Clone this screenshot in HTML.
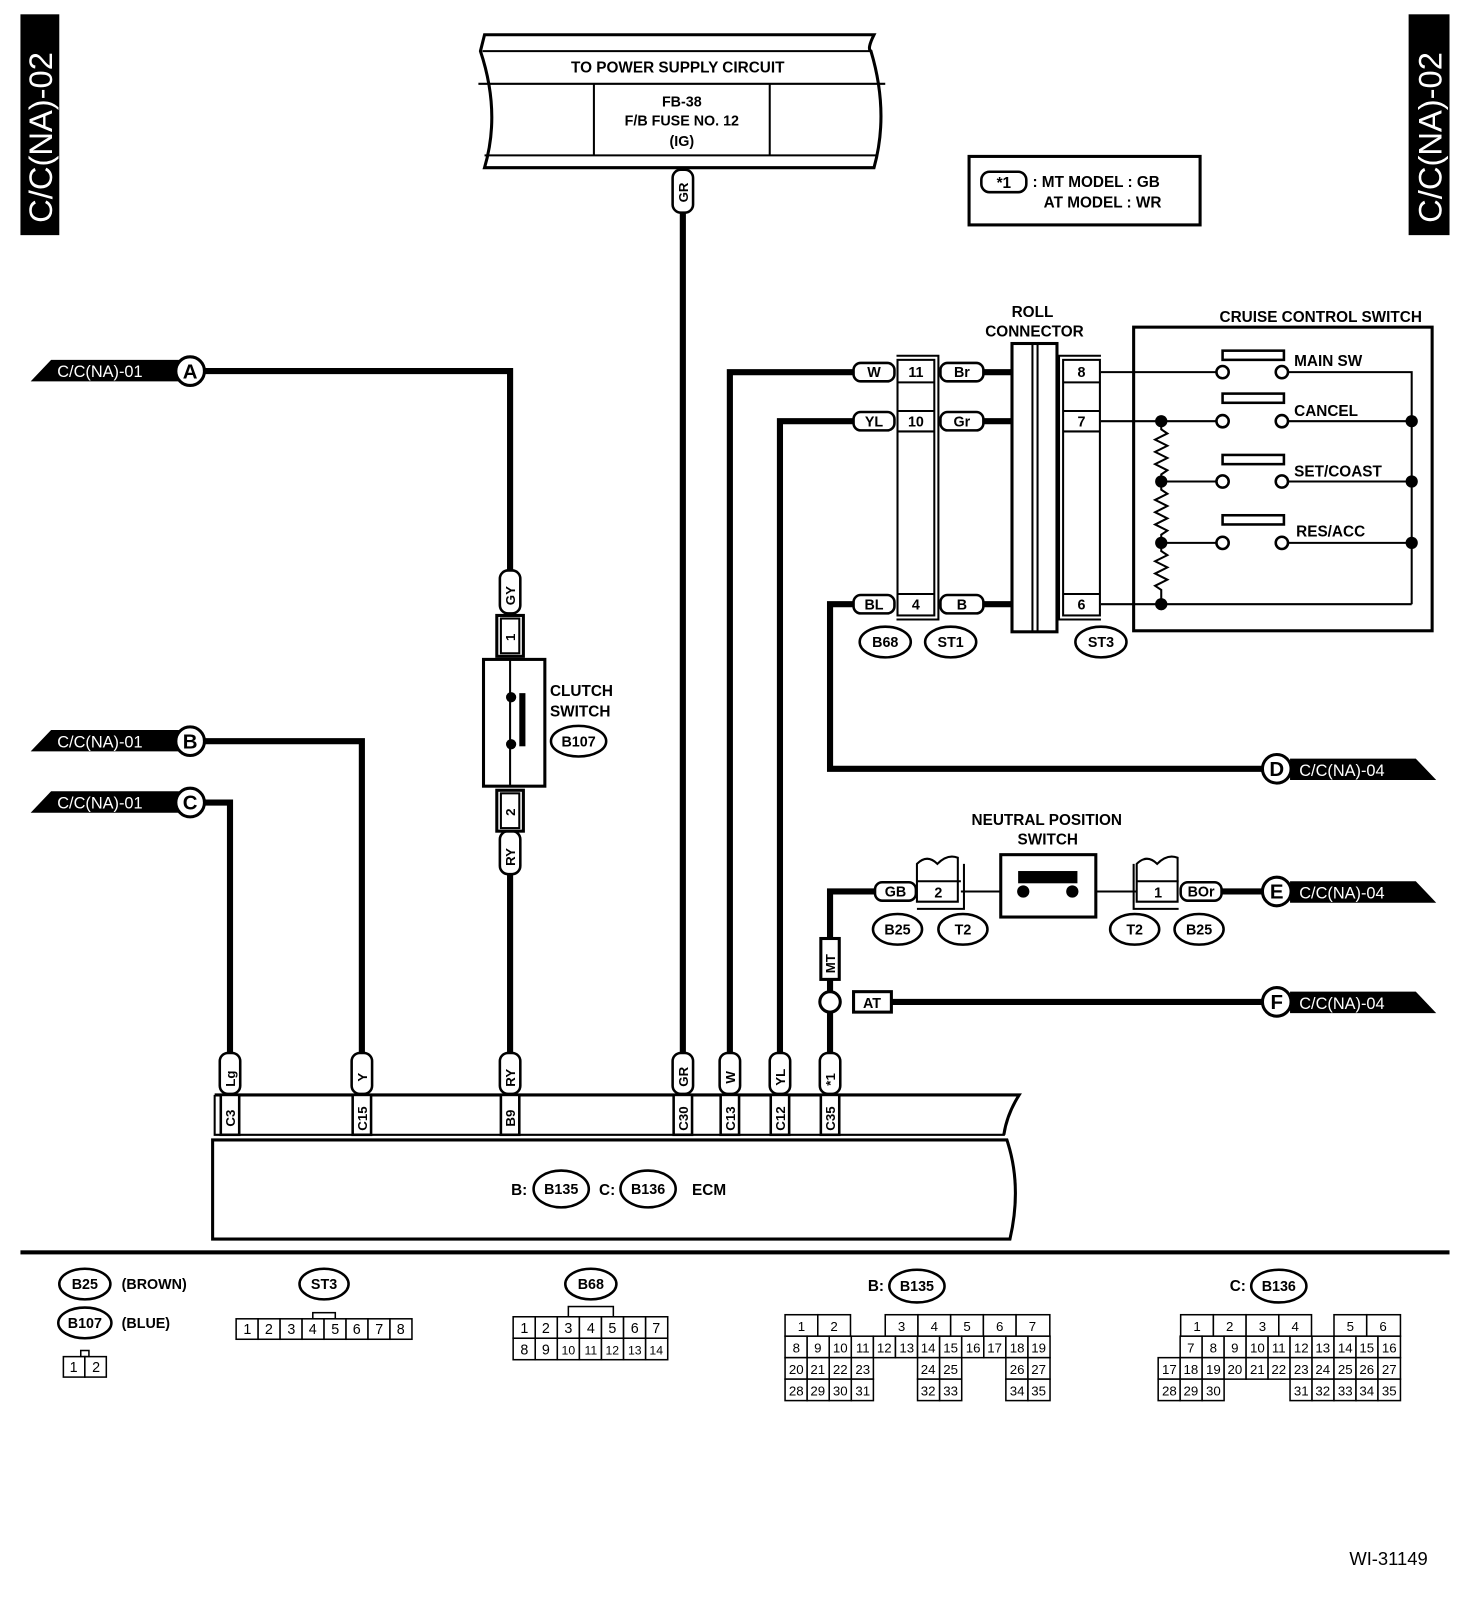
<!DOCTYPE html>
<html><head><meta charset="utf-8"><style>
html,body{margin:0;padding:0;background:#fff}
svg{display:block}
text{font-family:"Liberation Sans",sans-serif;font-weight:bold;fill:#000}
.w{fill:#fff}
.t{stroke:#000;stroke-width:6;fill:none}
.n{stroke:#000;stroke-width:2;fill:none}
.b{stroke:#000;stroke-width:3;fill:#fff}
.p{stroke:#000;stroke-width:2.5;fill:#fff}
</style></head><body>
<svg width="1472" height="1602" viewBox="0 0 1440 1567" preserveAspectRatio="none" xmlns="http://www.w3.org/2000/svg">
<!-- side tags -->
<rect x="20" y="14" width="38" height="216" fill="#000"/>
<text class="w" font-size="32" transform="translate(51,218) rotate(-90)" style="font-weight:normal">C/C(NA)-02</text>
<rect x="1378" y="14" width="40" height="216" fill="#000"/>
<text class="w" font-size="32" transform="translate(1410,218) rotate(-90)" style="font-weight:normal">C/C(NA)-02</text>

<!-- power box -->
<path class="b" d="M474,34 L855,34 Q848,48 852,50 Q870,110 855,164 L474,164 Q490,110 470,50 Z"/>
<line class="n" x1="472" y1="50" x2="852" y2="50" stroke-width="3"/>
<line class="n" x1="468" y1="82" x2="866" y2="82" stroke-width="3"/>
<line class="n" x1="474" y1="152" x2="857" y2="152" stroke-width="3"/>
<line class="n" x1="581" y1="82" x2="581" y2="152" stroke-width="3"/>
<line class="n" x1="753" y1="82" x2="753" y2="152" stroke-width="3"/>
<text x="663" y="71" font-size="15" text-anchor="middle">TO POWER SUPPLY CIRCUIT</text>
<text x="667" y="104" font-size="14" text-anchor="middle">FB-38</text>
<text x="667" y="123" font-size="14" text-anchor="middle">F/B FUSE NO. 12</text>
<text x="667" y="143" font-size="14" text-anchor="middle">(IG)</text>

<!-- note box -->
<rect x="948" y="153" width="226" height="67" class="b"/>
<rect x="960" y="168" width="44" height="20" rx="8" class="p"/>
<text x="982" y="184" font-size="15" text-anchor="middle">*1</text>
<text x="1010" y="183" font-size="15">: MT MODEL  : GB</text>
<text x="1021" y="203" font-size="15">AT MODEL  : WR</text>

<!-- thick wires -->
<path class="t" d="M668,205 V1032"/>
<path class="t" d="M200,363 H499 V562"/>
<path class="t" d="M499,852 V1032"/>
<path class="t" d="M200,725 H354 V1032"/>
<path class="t" d="M200,785 H225 V1032"/>
<path class="t" d="M714,1032 V364 H837"/>
<path class="t" d="M763,1032 V412 H837"/>
<path class="t" d="M837,591 H812 V752 H1236"/>
<path class="t" d="M812,1032 V872 H858"/>
<path class="t" d="M870,980 H1236"/>
<path class="t" d="M1194,872 H1236"/>
<path class="t" d="M960,364 H990 M960,412 H990 M960,591 H990"/>

<!-- left tags -->
<polygon points="50,352 175,352 175,373 30,373" fill="#000"/>
<text class="w" x="56" y="369" font-size="16" style="font-weight:normal">C/C(NA)-01</text>
<circle cx="186" cy="363" r="14" class="b"/><text x="186" y="370" font-size="20" text-anchor="middle">A</text>
<polygon points="50,714 175,714 175,735 30,735" fill="#000"/>
<text class="w" x="56" y="731" font-size="16" style="font-weight:normal">C/C(NA)-01</text>
<circle cx="186" cy="725" r="14" class="b"/><text x="186" y="732" font-size="20" text-anchor="middle">B</text>
<polygon points="50,774 175,774 175,795 30,795" fill="#000"/>
<text class="w" x="56" y="791" font-size="16" style="font-weight:normal">C/C(NA)-01</text>
<circle cx="186" cy="785" r="14" class="b"/><text x="186" y="792" font-size="20" text-anchor="middle">C</text>

<!-- right tags -->
<polygon points="1262,742 1385,742 1405,763 1262,763" fill="#000"/>
<text class="w" x="1271" y="759" font-size="16" style="font-weight:normal">C/C(NA)-04</text>
<circle cx="1249" cy="752" r="14" class="b"/><text x="1249" y="759" font-size="20" text-anchor="middle">D</text>
<polygon points="1262,862 1385,862 1405,883 1262,883" fill="#000"/>
<text class="w" x="1271" y="879" font-size="16" style="font-weight:normal">C/C(NA)-04</text>
<circle cx="1249" cy="872" r="14" class="b"/><text x="1249" y="879" font-size="20" text-anchor="middle">E</text>
<polygon points="1262,970 1385,970 1405,991 1262,991" fill="#000"/>
<text class="w" x="1271" y="987" font-size="16" style="font-weight:normal">C/C(NA)-04</text>
<circle cx="1249" cy="980" r="14" class="b"/><text x="1249" y="987" font-size="20" text-anchor="middle">F</text>

<!-- vertical pills -->
<rect x="658" y="166" width="20" height="42" rx="8" class="p"/><text font-size="13" transform="translate(673,198) rotate(-90)">GR</text>
<rect x="489" y="558" width="20" height="42" rx="8" class="p"/><text font-size="13" transform="translate(504,592) rotate(-90)">GY</text>
<rect x="489" y="813" width="20" height="42" rx="8" class="p"/><text font-size="13" transform="translate(504,847) rotate(-90)">RY</text>

<!-- clutch switch -->
<rect x="486" y="602" width="26" height="40" class="b"/><rect x="490" y="605" width="18" height="34" class="n"/>
<text font-size="13" transform="translate(504,627) rotate(-90)">1</text>
<rect x="473" y="645" width="60" height="124" class="b"/>
<line class="n" x1="499" y1="645" x2="499" y2="769"/>
<rect x="508" y="678" width="6" height="52" fill="#000"/>
<circle cx="500" cy="682" r="5"/><circle cx="500" cy="728" r="5"/>
<rect x="486" y="773" width="26" height="40" class="b"/><rect x="490" y="776" width="18" height="34" class="n"/>
<text font-size="13" transform="translate(504,798) rotate(-90)">2</text>
<text x="538" y="681" font-size="15">CLUTCH</text>
<text x="538" y="701" font-size="15">SWITCH</text>
<ellipse cx="566" cy="725" rx="27" ry="15" class="p"/><text x="566" y="730" font-size="14" text-anchor="middle">B107</text>

<!-- horizontal pills roll area -->
<rect x="835" y="355" width="40" height="18" rx="7" class="p"/><text x="855" y="369" font-size="14" text-anchor="middle">W</text>
<rect x="835" y="403" width="40" height="18" rx="7" class="p"/><text x="855" y="417" font-size="14" text-anchor="middle">YL</text>
<rect x="835" y="582" width="40" height="18" rx="7" class="p"/><text x="855" y="596" font-size="14" text-anchor="middle">BL</text>
<rect x="920" y="355" width="42" height="18" rx="7" class="p"/><text x="941" y="369" font-size="14" text-anchor="middle">Br</text>
<rect x="920" y="403" width="42" height="18" rx="7" class="p"/><text x="941" y="417" font-size="14" text-anchor="middle">Gr</text>
<rect x="920" y="582" width="42" height="18" rx="7" class="p"/><text x="941" y="596" font-size="14" text-anchor="middle">B</text>
<!-- B68 connector -->
<path class="n" stroke-width="3" d="M877,348 H918 V606 H877"/>
<rect x="878" y="352" width="36" height="250" class="n" stroke-width="3"/>
<path class="n" stroke-width="3" d="M878,374 H914 M878,402 H914 M878,422 H914 M878,581 H914"/>
<text x="896" y="369" font-size="14" text-anchor="middle">11</text>
<text x="896" y="417" font-size="14" text-anchor="middle">10</text>
<text x="896" y="596" font-size="14" text-anchor="middle">4</text>
<!-- roll connector -->
<text x="1010" y="310" font-size="15" text-anchor="middle">ROLL</text>
<text x="1012" y="329" font-size="15" text-anchor="middle">CONNECTOR</text>
<rect x="990" y="336" width="44" height="282" class="b"/>
<path class="n" stroke-width="3" d="M1010,336 V618 M1015,336 V618"/>
<!-- ST3 connector -->
<path class="n" stroke-width="3" d="M1077,348 H1036 V606 H1077"/>
<rect x="1040" y="352" width="36" height="250" class="n" stroke-width="3"/>
<path class="n" stroke-width="3" d="M1040,374 H1076 M1040,402 H1076 M1040,422 H1076 M1040,581 H1076"/>
<text x="1058" y="369" font-size="14" text-anchor="middle">8</text>
<text x="1058" y="417" font-size="14" text-anchor="middle">7</text>
<text x="1058" y="596" font-size="14" text-anchor="middle">6</text>
<ellipse cx="866" cy="628" rx="25" ry="15" class="p"/><text x="866" y="633" font-size="14" text-anchor="middle">B68</text>
<ellipse cx="930" cy="628" rx="25" ry="15" class="p"/><text x="930" y="633" font-size="14" text-anchor="middle">ST1</text>
<ellipse cx="1077" cy="628" rx="25" ry="15" class="p"/><text x="1077" y="633" font-size="14" text-anchor="middle">ST3</text>

<!-- cruise control switch -->
<text x="1292" y="315" font-size="15" text-anchor="middle">CRUISE CONTROL SWITCH</text>
<rect x="1109" y="320" width="292" height="297" class="b"/>
<path class="n" d="M1077,364 H1190 M1260,364 H1381 V591 M1077,591 H1381 M1077,412 H1190 M1136,471 H1190 M1136,531 H1190 M1260,412 H1381 M1260,471 H1381 M1260,531 H1381"/>
<path class="n" d="M1136,412 V420 l6,4 l-12,6 l12,6 l-12,6 l12,6 l-12,6 l12,6 l-6,4 V479 l6,4 l-12,6 l12,6 l-12,6 l12,6 l-12,6 l12,6 l-6,4 V539 l6,4 l-12,6 l12,6 l-12,6 l12,6 l-12,6 l6,4 V591"/>
<g fill="#fff" stroke="#000" stroke-width="2.5">
<circle cx="1196" cy="364" r="6"/><circle cx="1254" cy="364" r="6"/>
<circle cx="1196" cy="412" r="6"/><circle cx="1254" cy="412" r="6"/>
<circle cx="1196" cy="471" r="6"/><circle cx="1254" cy="471" r="6"/>
<circle cx="1196" cy="531" r="6"/><circle cx="1254" cy="531" r="6"/>
<rect x="1196" y="343" width="60" height="9"/><rect x="1196" y="385" width="60" height="9"/>
<rect x="1196" y="445" width="60" height="9"/><rect x="1196" y="504" width="60" height="9"/>
</g>
<g fill="#000"><circle cx="1136" cy="412" r="6"/><circle cx="1136" cy="471" r="6"/><circle cx="1136" cy="531" r="6"/><circle cx="1136" cy="591" r="6"/>
<circle cx="1381" cy="412" r="6"/><circle cx="1381" cy="471" r="6"/><circle cx="1381" cy="531" r="6"/></g>
<text x="1266" y="358" font-size="15">MAIN SW</text>
<text x="1266" y="407" font-size="15">CANCEL</text>
<text x="1266" y="466" font-size="15">SET/COAST</text>
<text x="1268" y="525" font-size="15">RES/ACC</text>

<!-- neutral position switch -->
<text x="1024" y="807" font-size="15" text-anchor="middle">NEUTRAL POSITION</text>
<text x="1025" y="826" font-size="15" text-anchor="middle">SWITCH</text>
<path class="n" d="M940,872 H1112"/>
<rect x="979" y="836" width="93" height="61" class="b"/>
<rect x="996" y="852" width="58" height="12" fill="#000"/>
<circle cx="1001" cy="872" r="6"/><circle cx="1049" cy="872" r="6"/>
<path class="n" stroke-width="3" d="M897,882 V845 q10,-10 20,0 q10,-10 20,-6 V882 Z M897,889 H943 V845"/>
<line class="n" stroke-width="3" x1="897" y1="862" x2="940" y2="862"/>
<text x="918" y="878" font-size="14" text-anchor="middle">2</text>
<path class="n" stroke-width="3" d="M1112,882 V845 q10,-10 20,0 q10,-10 20,-6 V882 Z M1109,845 V889 H1153"/>
<line class="n" stroke-width="3" x1="1112" y1="862" x2="1153" y2="862"/>
<text x="1133" y="878" font-size="14" text-anchor="middle">1</text>
<rect x="856" y="863" width="40" height="18" rx="7" class="p"/><text x="876" y="877" font-size="14" text-anchor="middle">GB</text>
<rect x="1155" y="863" width="40" height="18" rx="7" class="p"/><text x="1175" y="877" font-size="14" text-anchor="middle">BOr</text>
<ellipse cx="878" cy="909" rx="24" ry="15" class="p"/><text x="878" y="914" font-size="14" text-anchor="middle">B25</text>
<ellipse cx="942" cy="909" rx="24" ry="15" class="p"/><text x="942" y="914" font-size="14" text-anchor="middle">T2</text>
<ellipse cx="1110" cy="909" rx="24" ry="15" class="p"/><text x="1110" y="914" font-size="14" text-anchor="middle">T2</text>
<ellipse cx="1173" cy="909" rx="24" ry="15" class="p"/><text x="1173" y="914" font-size="14" text-anchor="middle">B25</text>
<rect x="803" y="918" width="18" height="40" class="b"/><text font-size="13" transform="translate(817,952) rotate(-90)">MT</text>
<circle cx="812" cy="980" r="10" class="b"/>
<rect x="835" y="970" width="37" height="20" class="b"/><text x="853" y="986" font-size="14" text-anchor="middle">AT</text>

<!-- ECM -->
<path class="b" d="M210,1071 H997 Q985,1090 982,1110"/>
<path class="n" stroke-width="3" d="M210,1071 V1110 H983"/>
<path class="b" d="M208,1115 H985 Q1000,1160 988,1212 H208 Z"/>
<g fill="#fff" stroke="#000" stroke-width="2.5">
<rect x="216" y="1071" width="18" height="39"/><rect x="345" y="1071" width="18" height="39"/>
<rect x="490" y="1071" width="18" height="39"/><rect x="659" y="1071" width="18" height="39"/>
<rect x="705" y="1071" width="18" height="39"/><rect x="754" y="1071" width="18" height="39"/>
<rect x="803" y="1071" width="18" height="39"/>
<rect x="215" y="1030" width="20" height="40" rx="8"/><rect x="344" y="1030" width="20" height="40" rx="8"/>
<rect x="489" y="1030" width="20" height="40" rx="8"/><rect x="658" y="1030" width="20" height="40" rx="8"/>
<rect x="704" y="1030" width="20" height="40" rx="8"/><rect x="753" y="1030" width="20" height="40" rx="8"/>
<rect x="802" y="1030" width="20" height="40" rx="8"/>
</g>
<g font-size="13">
<text transform="translate(230,1063) rotate(-90)">Lg</text>
<text transform="translate(359,1058) rotate(-90)">Y</text>
<text transform="translate(504,1063) rotate(-90)">RY</text>
<text transform="translate(673,1063) rotate(-90)">GR</text>
<text transform="translate(719,1060) rotate(-90)">W</text>
<text transform="translate(768,1062) rotate(-90)">YL</text>
<text transform="translate(817,1062) rotate(-90)">*1</text>
<text transform="translate(230,1102) rotate(-90)">C3</text>
<text transform="translate(359,1106) rotate(-90)">C15</text>
<text transform="translate(504,1102) rotate(-90)">B9</text>
<text transform="translate(673,1106) rotate(-90)">C30</text>
<text transform="translate(719,1106) rotate(-90)">C13</text>
<text transform="translate(768,1106) rotate(-90)">C12</text>
<text transform="translate(817,1106) rotate(-90)">C35</text>
</g>
<text x="500" y="1169" font-size="15">B:</text>
<ellipse cx="549" cy="1163" rx="27" ry="18" class="p"/><text x="549" y="1168" font-size="14" text-anchor="middle">B135</text>
<text x="586" y="1169" font-size="15">C:</text>
<ellipse cx="634" cy="1163" rx="27" ry="18" class="p"/><text x="634" y="1168" font-size="14" text-anchor="middle">B136</text>
<text x="677" y="1169" font-size="15">ECM</text>

<!-- separator -->
<rect x="20" y="1223" width="1398" height="4" fill="#000"/>

<!-- legend -->
<ellipse cx="83" cy="1256" rx="25" ry="15" class="p"/><text x="83" y="1261" font-size="14" text-anchor="middle">B25</text>
<text x="119" y="1261" font-size="14">(BROWN)</text>
<ellipse cx="83" cy="1294" rx="26" ry="15" class="p"/><text x="83" y="1299" font-size="14" text-anchor="middle">B107</text>
<text x="119" y="1299" font-size="14">(BLUE)</text>
<g fill="#fff" stroke="#000" stroke-width="1.5" font-weight="normal">
<rect x="79" y="1321" width="8" height="6"/>
<rect x="62" y="1327" width="21" height="20"/><rect x="83" y="1327" width="21" height="20"/>
</g>
<g font-size="14" style="font-weight:normal"><text x="72" y="1342" text-anchor="middle" style="font-weight:normal">1</text><text x="94" y="1342" text-anchor="middle" style="font-weight:normal">2</text></g>

<ellipse cx="317" cy="1256" rx="24" ry="15" class="p"/><text x="317" y="1261" font-size="14" text-anchor="middle">ST3</text>
<rect x="306" y="1284" width="22" height="6" fill="#fff" stroke="#000" stroke-width="1.5"/>
<g fill="#fff" stroke="#000" stroke-width="1.5">
<rect x="231" y="1290" width="21.5" height="20"/><rect x="252.5" y="1290" width="21.5" height="20"/><rect x="274" y="1290" width="21.5" height="20"/><rect x="295.5" y="1290" width="21.5" height="20"/><rect x="317" y="1290" width="21.5" height="20"/><rect x="338.5" y="1290" width="21.5" height="20"/><rect x="360" y="1290" width="21.5" height="20"/><rect x="381.5" y="1290" width="21.5" height="20"/>
</g>
<g font-size="14" text-anchor="middle"><text x="242" y="1305" style="font-weight:normal">1</text><text x="263" y="1305" style="font-weight:normal">2</text><text x="285" y="1305" style="font-weight:normal">3</text><text x="306" y="1305" style="font-weight:normal">4</text><text x="328" y="1305" style="font-weight:normal">5</text><text x="349" y="1305" style="font-weight:normal">6</text><text x="371" y="1305" style="font-weight:normal">7</text><text x="392" y="1305" style="font-weight:normal">8</text></g>

<ellipse cx="578" cy="1256" rx="25" ry="15" class="p"/><text x="578" y="1261" font-size="14" text-anchor="middle">B68</text>
<rect x="556" y="1278" width="44" height="10" fill="#fff" stroke="#000" stroke-width="1.5"/>
<g fill="#fff" stroke="#000" stroke-width="1.5">
<rect x="502" y="1288" width="21.6" height="21"/><rect x="523.6" y="1288" width="21.6" height="21"/><rect x="545.2" y="1288" width="21.6" height="21"/><rect x="566.8" y="1288" width="21.6" height="21"/><rect x="588.4" y="1288" width="21.6" height="21"/><rect x="610" y="1288" width="21.6" height="21"/><rect x="631.6" y="1288" width="21.6" height="21"/>
<rect x="502" y="1309" width="21.6" height="21"/><rect x="523.6" y="1309" width="21.6" height="21"/><rect x="545.2" y="1309" width="21.6" height="21"/><rect x="566.8" y="1309" width="21.6" height="21"/><rect x="588.4" y="1309" width="21.6" height="21"/><rect x="610" y="1309" width="21.6" height="21"/><rect x="631.6" y="1309" width="21.6" height="21"/>
</g>
<g font-size="14" text-anchor="middle" style="font-weight:normal">
<text x="513" y="1304" style="font-weight:normal">1</text><text x="534" y="1304" style="font-weight:normal">2</text><text x="556" y="1304" style="font-weight:normal">3</text><text x="578" y="1304" style="font-weight:normal">4</text><text x="599" y="1304" style="font-weight:normal">5</text><text x="621" y="1304" style="font-weight:normal">6</text><text x="642" y="1304" style="font-weight:normal">7</text>
<text x="513" y="1325" style="font-weight:normal">8</text><text x="534" y="1325" style="font-weight:normal">9</text><text x="556" y="1325" font-size="12" style="font-weight:normal">10</text><text x="578" y="1325" font-size="12" style="font-weight:normal">11</text><text x="599" y="1325" font-size="12" style="font-weight:normal">12</text><text x="621" y="1325" font-size="12" style="font-weight:normal">13</text><text x="642" y="1325" font-size="12" style="font-weight:normal">14</text>
</g>

<!-- B135 -->
<text x="849" y="1263" font-size="15">B:</text>
<ellipse cx="897" cy="1258" rx="27" ry="16" class="p"/><text x="897" y="1263" font-size="14" text-anchor="middle">B135</text>
<g fill="#fff" stroke="#000" stroke-width="1.5">
<rect x="768" y="1286" width="32" height="21"/><rect x="800" y="1286" width="32" height="21"/>
<rect x="866" y="1286" width="32" height="21"/><rect x="898" y="1286" width="32" height="21"/><rect x="930" y="1286" width="32" height="21"/><rect x="962" y="1286" width="32" height="21"/><rect x="994" y="1286" width="33" height="21"/>
<rect x="768" y="1307" width="21.6" height="21"/><rect x="789.6" y="1307" width="21.6" height="21"/><rect x="811.2" y="1307" width="21.6" height="21"/><rect x="832.8" y="1307" width="21.6" height="21"/><rect x="854.4" y="1307" width="21.6" height="21"/><rect x="876" y="1307" width="21.6" height="21"/><rect x="897.6" y="1307" width="21.6" height="21"/><rect x="919.2" y="1307" width="21.6" height="21"/><rect x="940.8" y="1307" width="21.6" height="21"/><rect x="962.4" y="1307" width="21.6" height="21"/><rect x="984" y="1307" width="21.6" height="21"/><rect x="1005.6" y="1307" width="21.6" height="21"/>
<rect x="768" y="1328" width="21.6" height="21"/><rect x="789.6" y="1328" width="21.6" height="21"/><rect x="811.2" y="1328" width="21.6" height="21"/><rect x="832.8" y="1328" width="21.6" height="21"/><rect x="897.6" y="1328" width="21.6" height="21"/><rect x="919.2" y="1328" width="21.6" height="21"/><rect x="984" y="1328" width="21.6" height="21"/><rect x="1005.6" y="1328" width="21.6" height="21"/>
<rect x="768" y="1349" width="21.6" height="21"/><rect x="789.6" y="1349" width="21.6" height="21"/><rect x="811.2" y="1349" width="21.6" height="21"/><rect x="832.8" y="1349" width="21.6" height="21"/><rect x="897.6" y="1349" width="21.6" height="21"/><rect x="919.2" y="1349" width="21.6" height="21"/><rect x="984" y="1349" width="21.6" height="21"/><rect x="1005.6" y="1349" width="21.6" height="21"/>
</g>
<g font-size="13" text-anchor="middle">
<text x="784" y="1302" style="font-weight:normal">1</text><text x="816" y="1302" style="font-weight:normal">2</text><text x="882" y="1302" style="font-weight:normal">3</text><text x="914" y="1302" style="font-weight:normal">4</text><text x="946" y="1302" style="font-weight:normal">5</text><text x="978" y="1302" style="font-weight:normal">6</text><text x="1010" y="1302" style="font-weight:normal">7</text>
<text x="779" y="1323" style="font-weight:normal">8</text><text x="800" y="1323" style="font-weight:normal">9</text><text x="822" y="1323" style="font-weight:normal">10</text><text x="844" y="1323" style="font-weight:normal">11</text><text x="865" y="1323" style="font-weight:normal">12</text><text x="887" y="1323" style="font-weight:normal">13</text><text x="908" y="1323" style="font-weight:normal">14</text><text x="930" y="1323" style="font-weight:normal">15</text><text x="952" y="1323" style="font-weight:normal">16</text><text x="973" y="1323" style="font-weight:normal">17</text><text x="995" y="1323" style="font-weight:normal">18</text><text x="1016" y="1323" style="font-weight:normal">19</text>
<text x="779" y="1344" style="font-weight:normal">20</text><text x="800" y="1344" style="font-weight:normal">21</text><text x="822" y="1344" style="font-weight:normal">22</text><text x="844" y="1344" style="font-weight:normal">23</text><text x="908" y="1344" style="font-weight:normal">24</text><text x="930" y="1344" style="font-weight:normal">25</text><text x="995" y="1344" style="font-weight:normal">26</text><text x="1016" y="1344" style="font-weight:normal">27</text>
<text x="779" y="1365" style="font-weight:normal">28</text><text x="800" y="1365" style="font-weight:normal">29</text><text x="822" y="1365" style="font-weight:normal">30</text><text x="844" y="1365" style="font-weight:normal">31</text><text x="908" y="1365" style="font-weight:normal">32</text><text x="930" y="1365" style="font-weight:normal">33</text><text x="995" y="1365" style="font-weight:normal">34</text><text x="1016" y="1365" style="font-weight:normal">35</text>
</g>

<!-- B136 -->
<text x="1203" y="1263" font-size="15">C:</text>
<ellipse cx="1251" cy="1258" rx="27" ry="16" class="p"/><text x="1251" y="1263" font-size="14" text-anchor="middle">B136</text>
<g fill="#fff" stroke="#000" stroke-width="1.5">
<rect x="1155" y="1286" width="32" height="21"/><rect x="1187" y="1286" width="32" height="21"/><rect x="1219" y="1286" width="32" height="21"/><rect x="1251" y="1286" width="32" height="21"/>
<rect x="1305" y="1286" width="32" height="21"/><rect x="1337" y="1286" width="33" height="21"/>
<rect x="1154.5" y="1307" width="21.5" height="21"/><rect x="1176" y="1307" width="21.5" height="21"/><rect x="1197.5" y="1307" width="21.5" height="21"/><rect x="1219" y="1307" width="21.5" height="21"/><rect x="1240.5" y="1307" width="21.5" height="21"/><rect x="1262" y="1307" width="21.5" height="21"/><rect x="1283.5" y="1307" width="21.5" height="21"/><rect x="1305" y="1307" width="21.5" height="21"/><rect x="1326.5" y="1307" width="21.5" height="21"/><rect x="1348" y="1307" width="22" height="21"/>
<rect x="1133" y="1328" width="21.5" height="21"/><rect x="1154.5" y="1328" width="21.5" height="21"/><rect x="1176" y="1328" width="21.5" height="21"/><rect x="1197.5" y="1328" width="21.5" height="21"/><rect x="1219" y="1328" width="21.5" height="21"/><rect x="1240.5" y="1328" width="21.5" height="21"/><rect x="1262" y="1328" width="21.5" height="21"/><rect x="1283.5" y="1328" width="21.5" height="21"/><rect x="1305" y="1328" width="21.5" height="21"/><rect x="1326.5" y="1328" width="21.5" height="21"/><rect x="1348" y="1328" width="22" height="21"/>
<rect x="1133" y="1349" width="21.5" height="21"/><rect x="1154.5" y="1349" width="21.5" height="21"/><rect x="1176" y="1349" width="21.5" height="21"/>
<rect x="1262" y="1349" width="21.5" height="21"/><rect x="1283.5" y="1349" width="21.5" height="21"/><rect x="1305" y="1349" width="21.5" height="21"/><rect x="1326.5" y="1349" width="21.5" height="21"/><rect x="1348" y="1349" width="22" height="21"/>
</g>
<g font-size="13" text-anchor="middle">
<text x="1171" y="1302" style="font-weight:normal">1</text><text x="1203" y="1302" style="font-weight:normal">2</text><text x="1235" y="1302" style="font-weight:normal">3</text><text x="1267" y="1302" style="font-weight:normal">4</text><text x="1321" y="1302" style="font-weight:normal">5</text><text x="1353" y="1302" style="font-weight:normal">6</text>
<text x="1165" y="1323" style="font-weight:normal">7</text><text x="1187" y="1323" style="font-weight:normal">8</text><text x="1208" y="1323" style="font-weight:normal">9</text><text x="1230" y="1323" style="font-weight:normal">10</text><text x="1251" y="1323" style="font-weight:normal">11</text><text x="1273" y="1323" style="font-weight:normal">12</text><text x="1294" y="1323" style="font-weight:normal">13</text><text x="1316" y="1323" style="font-weight:normal">14</text><text x="1337" y="1323" style="font-weight:normal">15</text><text x="1359" y="1323" style="font-weight:normal">16</text>
<text x="1144" y="1344" style="font-weight:normal">17</text><text x="1165" y="1344" style="font-weight:normal">18</text><text x="1187" y="1344" style="font-weight:normal">19</text><text x="1208" y="1344" style="font-weight:normal">20</text><text x="1230" y="1344" style="font-weight:normal">21</text><text x="1251" y="1344" style="font-weight:normal">22</text><text x="1273" y="1344" style="font-weight:normal">23</text><text x="1294" y="1344" style="font-weight:normal">24</text><text x="1316" y="1344" style="font-weight:normal">25</text><text x="1337" y="1344" style="font-weight:normal">26</text><text x="1359" y="1344" style="font-weight:normal">27</text>
<text x="1144" y="1365" style="font-weight:normal">28</text><text x="1165" y="1365" style="font-weight:normal">29</text><text x="1187" y="1365" style="font-weight:normal">30</text>
<text x="1273" y="1365" style="font-weight:normal">31</text><text x="1294" y="1365" style="font-weight:normal">32</text><text x="1316" y="1365" style="font-weight:normal">33</text><text x="1337" y="1365" style="font-weight:normal">34</text><text x="1359" y="1365" style="font-weight:normal">35</text>
</g>

<text x="1320" y="1531" font-size="18" style="font-weight:normal">WI-31149</text>
</svg>
</body></html>
